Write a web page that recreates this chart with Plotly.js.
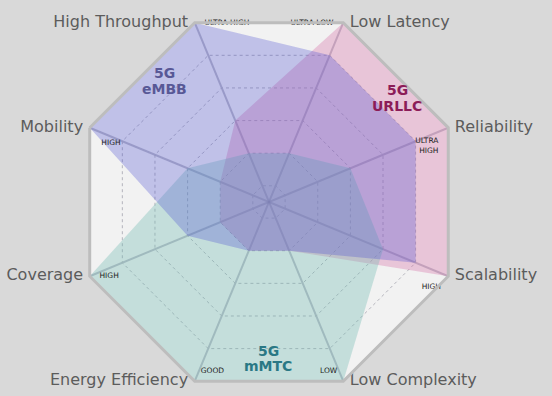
<!DOCTYPE html>
<html>
<head>
<meta charset="utf-8">
<script src="https://cdn.plot.ly/plotly-3.0.1.min.js"></script>
<style>html,body{margin:0;padding:0;background:#d9d9d9;}#chart{width:552px;height:396px;}</style>
</head>
<body>
<div id="chart"></div>
<script>
var categories = ["High Throughput", "Low Latency", "Reliability", "Scalability", "Low Complexity", "Energy Efficiency", "Coverage", "Mobility"];
var levelLabels = ["ULTRA HIGH", "ULTRA LOW", "ULTRA<br>HIGH", "HIGH", "LOW", "GOOD", "HIGH", "HIGH"];
var embb  = [5, 4, 4, 4, 1, 1, 2, 5];
var urllc = [2, 5, 5, 5, 1, 1, 1, 1];
var mmtc  = [1, 1, 2, 3, 5, 5, 5, 2];
var seriesTop = ["5G", "5G", "5G"];
var seriesBottom = ["eMBB", "URLLC", "mMTC"];
var maxLevel = 5;

function area(vals, color) {
  return {
    type: "scatterpolar", r: vals, theta: categories, fill: "toself",
    fillcolor: color, mode: "lines", line: {color: "rgba(0,0,0,0)", width: 0},
    hoverinfo: "skip", showlegend: false
  };
}

var outerR = categories.map(function(){ return maxLevel; });

var catLabels = {
  type: "scatterpolar", r: outerR, theta: categories, mode: "markers+text",
  text: categories,
  marker: {size: 9, color: "rgba(0,0,0,0)", line: {width: 0, color: "rgba(0,0,0,0)"}},
  textposition: ["middle left", "middle right", "middle right", "middle right", "middle right", "middle left", "middle left", "middle left"],
  textfont: {family: "DejaVu Sans", size: 16, color: "#5c5c5c"},
  cliponaxis: false, hoverinfo: "skip", showlegend: false
};

var lvlLabels = {
  type: "scatterpolar", r: outerR, theta: categories, mode: "markers+text",
  text: levelLabels,
  marker: {size: [14, 14, 14, 10, 8, 8, 14, 17], color: "rgba(0,0,0,0)", line: {width: 0, color: "rgba(0,0,0,0)"}},
  textposition: ["middle right", "middle left", "bottom left", "bottom left", "top left", "top right", "middle right", "bottom right"],
  textfont: {family: "DejaVu Sans", size: 7.5, color: "#222222"},
  cliponaxis: false, hoverinfo: "skip", showlegend: false
};

var data = [
  area(urllc, "rgba(216,116,168,0.35)"),
  area(mmtc, "rgba(111,185,179,0.35)"),
  area(embb, "rgba(75,79,209,0.3)"),
  catLabels, lvlLabels
];

var labelColors = ["#585896", "#8c1c58", "#2a7885"];
var labelPos = [[164, 73, 89], [397, 90, 106], [268, 351, 366]];
var annotations = [];
for (var i = 0; i < 3; i++) {
  annotations.push({text: "<b>" + seriesTop[i] + "</b>", x: labelPos[i][0]/552, y: 1 - labelPos[i][1]/396, xref: "paper", yref: "paper", xanchor: "center", yanchor: "middle", showarrow: false, font: {family: "DejaVu Sans", size: 14, color: labelColors[i]}});
  annotations.push({text: "<b>" + seriesBottom[i] + "</b>", x: labelPos[i][0]/552, y: 1 - labelPos[i][2]/396, xref: "paper", yref: "paper", xanchor: "center", yanchor: "middle", showarrow: false, font: {family: "DejaVu Sans", size: 14, color: labelColors[i]}});
}

var layout = {
  width: 552, height: 396,
  margin: {l: 0, r: 0, t: 0, b: 0},
  paper_bgcolor: "#d9d9d9",
  showlegend: false,
  polar: {
    domain: {x: [0, 0.9746], y: [0, 0.98]},
    gridshape: "linear",
    bgcolor: "#f2f2f2",
    radialaxis: {
      range: [-0.495, maxLevel], tickvals: [0, 1, 2, 3, 4], showticklabels: false,
      ticks: "", showline: false, gridcolor: "#b4b4bc", griddash: "dot", gridwidth: 1
    },
    angularaxis: {
      direction: "clockwise", rotation: 112.5, categoryarray: categories,
      showticklabels: false, ticks: "",
      gridcolor: "rgba(140,140,160,0.55)", gridwidth: 2,
      showline: true, linecolor: "#bdbdbd", linewidth: 3
    }
  },
  annotations: annotations
};

Plotly.newPlot("chart", data, layout, {displayModeBar: false, staticPlot: true});
</script>
</body>
</html>
